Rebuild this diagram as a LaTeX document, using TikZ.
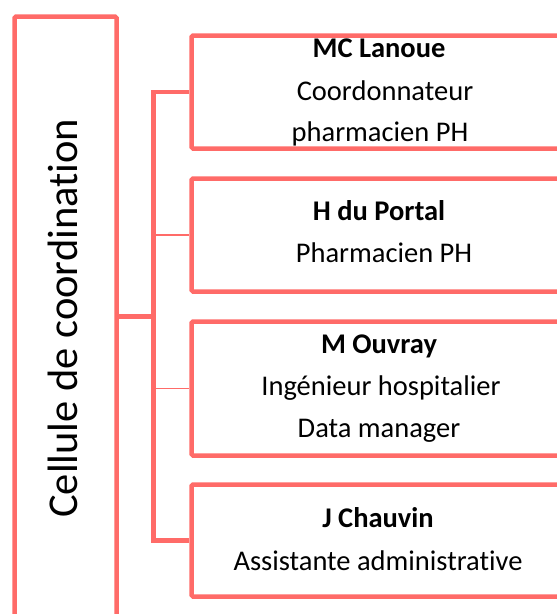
\documentclass[tikz,border=0pt]{standalone}
\usepackage{fontspec}
\setmainfont{Carlito}[RawFeature=-liga]
\definecolor{salmon}{RGB}{255,107,104}
\tikzset{
  box/.style={draw=salmon, line width=4.5pt, rounded corners=1.5pt, inner sep=0pt, fill=white},
  conn/.style={draw=salmon, line width=4.5pt},
  thinconn/.style={draw=salmon, line width=1.5pt},
  lbl/.style={anchor=base, inner sep=0pt, font=\fontsize{28.5}{28.5}\selectfont},
  blbl/.style={anchor=base, inner sep=0pt, font=\fontsize{28.5}{28.5}\selectfont\bfseries},
}
\begin{document}
\begin{tikzpicture}[x=1pt, y=-1pt]
\useasboundingbox (0,0) rectangle (557,614);
\clip (0,0) rectangle (557,614);
% left box
\node[box, minimum width=102pt, minimum height=600pt] (lb) at (65.5,316.5) {};
\node[rotate=90, anchor=base west, inner sep=0pt, font=\fontsize{42.5}{42.5}\selectfont] (lt) at (77.5,518) {Cellule de coordination};
% right boxes
\node[box, minimum width=374.5pt, minimum height=113pt] (b1) at (378.75,92) {};
\node[box, minimum width=374.5pt, minimum height=113pt] (b2) at (378.75,235) {};
\node[box, minimum width=374.5pt, minimum height=134pt] (b3) at (378.75,388.5) {};
\node[box, minimum width=374.5pt, minimum height=112pt] (b4) at (378.75,540.5) {};
% connectors
\coordinate (t) at (153.5,316.5);
\draw[conn] (lb.east) -- (t);
\draw[conn] (b1.west) -| (t) |- (b4.west);
\draw[thinconn] (t |- b2.west) -- (b2.west);
\draw[thinconn] (t |- b3.west) -- (b3.west);
% texts
\node[blbl] (t1a) at (379,57) {MC Lanoue};
\node[lbl] (t1b) at (385,100) {Coordonnateur};
\node[lbl] (t1c) at (380,141.5) {pharmacien PH};
\node[blbl] (t2a) at (379,220) {H du Portal};
\node[lbl] (t2b) at (384,262) {Pharmacien PH};
\node[blbl] (t3a) at (379,353) {M Ouvray};
\node[lbl] (t3b) at (381,395) {Ingénieur hospitalier};
\node[lbl] (t3c) at (379,437) {Data manager};
\node[blbl] (t4a) at (378,527) {J Chauvin};
\node[lbl] (t4b) at (378,570) {Assistante administrative};
\end{tikzpicture}
\end{document}
